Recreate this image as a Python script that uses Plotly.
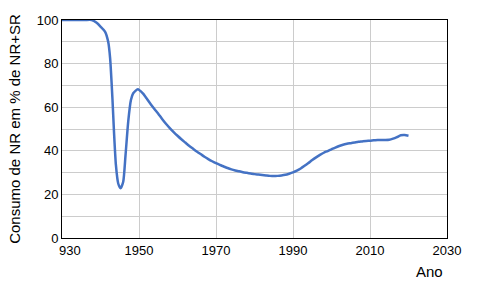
import plotly.graph_objects as go

years = [1930, 1932, 1934, 1936, 1937.7, 1939, 1940, 1941.2, 1942, 1942.5, 1943.1, 1943.5,
         1944.0, 1944.6, 1945.2, 1945.9, 1946.5, 1947.2, 1947.9, 1948.5, 1949.7,
         1951, 1952, 1953, 1954, 1955, 1956, 1957, 1958, 1959, 1960,
         1961, 1962, 1963, 1964, 1965, 1966, 1967, 1968, 1969, 1970,
         1971, 1972, 1973, 1974, 1975, 1976, 1977, 1978, 1979, 1980,
         1981, 1982, 1983, 1984, 1985, 1986, 1987, 1988, 1989, 1990,
         1991, 1992, 1993, 1994, 1995, 1996, 1997, 1998, 1999, 2000,
         2001, 2002, 2003, 2004, 2005, 2006, 2007, 2008, 2009, 2010,
         2011, 2012, 2013, 2014, 2015, 2016, 2017, 2018, 2019, 2020]

values = [100, 100, 100, 100, 100, 98.7, 97.0, 94.6, 90.0, 82.4, 64.0, 48.8,
          33.5, 25.0, 22.8, 25.8, 38.0, 53.4, 63.3, 66.4, 68.2,
          66.3, 64.0, 61.5, 59.2, 57.0, 54.6, 52.4, 50.4, 48.6, 46.9,
          45.3, 43.8, 42.3, 41.0, 39.7, 38.5, 37.3, 36.2, 35.2, 34.3,
          33.5, 32.8, 32.1, 31.5, 31.0, 30.6, 30.2, 29.9, 29.6, 29.3,
          29.1, 28.9, 28.7, 28.5, 28.4, 28.5, 28.7, 29.0, 29.5, 30.1,
          30.9, 31.9, 33.1, 34.4, 35.8, 37.0, 38.1, 39.1, 39.9, 40.7,
          41.5, 42.2, 42.8, 43.2, 43.5, 43.8, 44.1, 44.3, 44.5, 44.6,
          44.8, 44.9, 45.0, 45.0, 45.1, 45.6, 46.3, 47.1, 47.2, 46.9]

x_ticks = [1930, 1950, 1970, 1990, 2010, 2030]
x_tick_text = ["", "1950", "1970", "1990", "2010", "2030"]
first_x_label = "930"
y_ticks = [0, 10, 20, 30, 40, 50, 60, 70, 80, 90, 100]
y_tick_text = ["0", "", "20", "", "40", "", "60", "", "80", "", "100"]

font = "Liberation Sans, Arial, sans-serif"
grid = "rgb(204,204,204)"

fig = go.Figure()
fig.add_trace(go.Scatter(
    x=years, y=values, mode="lines",
    line=dict(color="#4472C4", width=2.5, shape="spline", smoothing=0.6),
    showlegend=False, hoverinfo="skip",
))

fig.update_layout(
    template="none",
    width=479, height=291,
    margin=dict(l=62, r=32, t=20, b=53),
    paper_bgcolor="white", plot_bgcolor="white",
    font=dict(family=font, size=13, color="#000000"),
    xaxis=dict(
        range=[1930, 2030], tickmode="array", tickvals=x_ticks, ticktext=x_tick_text,
        showgrid=True, gridcolor=grid, gridwidth=1,
        showline=True, linecolor="black", linewidth=1, mirror=True,
        ticks="", zeroline=False, tickfont=dict(size=13),
    ),
    yaxis=dict(
        range=[0, 100], tickmode="array", tickvals=y_ticks, ticktext=y_tick_text,
        showgrid=True, gridcolor=grid, gridwidth=1,
        showline=True, linecolor="black", linewidth=1, mirror=True,
        ticks="", zeroline=False, tickfont=dict(size=13),
        title=dict(text="Consumo de NR em % de NR+SR", font=dict(size=15), standoff=12),
    ),
    annotations=[
        dict(
            text="Ano", xref="paper", yref="paper", x=0.955, y=-0.155,
            xanchor="center", yanchor="middle", showarrow=False, font=dict(size=15),
        ),
        dict(
            text=first_x_label, xref="x", yref="paper", x=x_ticks[0], y=0,
            xanchor="left", yanchor="middle", xshift=-5, yshift=-12.5,
            showarrow=False, font=dict(size=13),
        ),
    ],
)

fig.write_html("out.html")
